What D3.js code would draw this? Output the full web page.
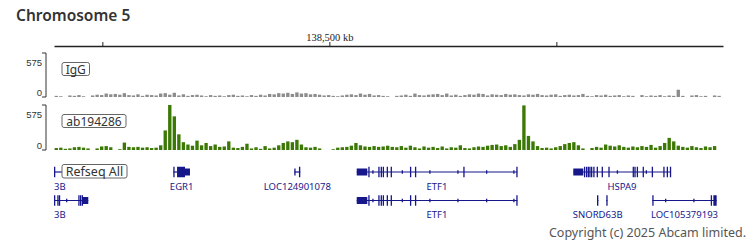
<!DOCTYPE html>
<html>
<head>
<meta charset="utf-8">
<script src="https://cdn.jsdelivr.net/npm/d3@7"></script>
<style>
  body { margin: 0; background: #fff; }
  svg { display: block; font-family: "Noto Sans", sans-serif; }
</style>
</head>
<body>
<div id="graf"></div>
<script>
// region shown (kb)
const regionStart = 138378.7
const regionEnd = 138673.4
const rulerTicks = [138400, 138500, 138600]
const labelledTick = 138500

// coverage, 2 kb bins from regionStart, scale 0-575
const binKb = 2
const trackMax = 575
const igg = [
  15, 10, 0, 20, 15, 25, 10, 0, 20, 30, 25, 45, 35, 40, 30, 50, 25, 20, 35, 15, 30,
  25, 20, 45, 50, 30, 55, 20, 35, 15, 25, 30, 20, 10, 25, 15, 20, 10, 25, 30, 15,
  20, 10, 25, 15, 30, 20, 40, 35, 50, 45, 55, 40, 60, 45, 50, 35, 40, 30, 20, 25,
  15, 10, 20, 30, 35, 25, 45, 30, 40, 20, 25, 15, 10, 0, 15, 20, 30, 15, 45, 25,
  20, 30, 35, 40, 25, 45, 20, 30, 15, 25, 35, 30, 45, 40, 20, 35, 30, 25, 40, 30,
  35, 25, 20, 35, 30, 40, 25, 20, 30, 35, 15, 25, 30, 20, 25, 40, 15, 10, 25, 20,
  30, 15, 20, 25, 10, 20, 15, 0, 25, 10, 20, 15, 25, 10, 20, 15, 95, 15, 0, 20,
  25, 10, 15, 0, 20, 15
]
const ab194286 = [
  25, 30, 15, 20, 35, 40, 30, 20, 0, 20, 45, 50, 35, 0, 10, 95, 40, 35, 40, 30,
  35, 25, 30, 60, 250, 575, 430, 200, 100, 70, 55, 120, 60, 90, 50, 70, 40, 45,
  110, 30, 25, 40, 80, 20, 35, 15, 50, 20, 30, 60, 90, 110, 100, 130, 70, 35,
  30, 40, 20, 0, 0, 10, 30, 35, 40, 55, 90, 60, 45, 40, 50, 40, 45, 55, 40, 35,
  50, 30, 55, 35, 20, 45, 30, 40, 25, 45, 20, 35, 30, 60, 25, 20, 35, 45, 40,
  55, 65, 70, 50, 60, 40, 75, 130, 570, 180, 110, 50, 25, 30, 20, 35, 50, 75,
  90, 100, 60, 20, 0, 25, 40, 30, 70, 55, 45, 60, 40, 30, 45, 35, 50, 40, 65,
  30, 50, 90, 155, 110, 55, 40, 30, 50, 35, 25, 45, 35, 50
]

// RefSeq genes: row, name, start, end, exons [start, end, kind]
const genes = [
  { row: 0, name: "3B", start: 138340, end: 138385, exons: [[138378.7, 138379.15, "cds"]] },
  { row: 0, name: "EGR1", start: 138431.25, end: 138438.6, exons: [
    [138431.25, 138431.8, "cds"], [138432.9, 138436.4, "cds"], [138436.4, 138438.6, "utr"]] },
  { row: 0, name: "LOC124901078", start: 138484.55, end: 138487.2, exons: [
    [138484.55, 138485.0, "utr"], [138486.6, 138487.2, "cds"]] },
  { row: 0, name: "ETF1", start: 138512.05, end: 138582.8, exons: [
    [138512.05, 138516.7, "utr"], [138517.15, 138517.6, "cds"], [138518.9, 138519.3, "mark"],
    [138521.55, 138522.0, "cds"], [138522.6, 138523.0, "cds"], [138523.5, 138523.9, "cds"],
    [138525.25, 138525.7, "cds"], [138527.0, 138527.45, "cds"], [138531.85, 138532.25, "mark"],
    [138535.5, 138535.95, "cds"], [138537.7, 138538.15, "cds"], [138544.0, 138544.4, "mark"],
    [138556.35, 138556.75, "mark"], [138559.0, 138559.45, "cds"], [138569.0, 138569.4, "mark"],
    [138581.0, 138581.4, "mark"], [138582.35, 138582.8, "cds"]] },
  { row: 0, name: "HSPA9", start: 138607.45, end: 138650.4, exons: [
    [138607.45, 138611.85, "utr"], [138612.15, 138612.55, "cds"], [138613.05, 138613.45, "cds"],
    [138613.8, 138614.2, "cds"], [138614.5, 138614.9, "cds"], [138615.25, 138615.65, "cds"],
    [138616.25, 138616.65, "cds"], [138617.75, 138618.15, "cds"], [138619.95, 138620.35, "cds"],
    [138622.9, 138623.3, "cds"], [138626.6, 138627.0, "mark"], [138633.6, 138634.0, "cds"],
    [138634.35, 138634.75, "cds"], [138635.4, 138635.8, "cds"], [138638.0, 138638.4, "cds"],
    [138639.35, 138639.75, "mark"], [138642.0, 138642.4, "cds"], [138647.1, 138647.5, "cds"],
    [138648.6, 138649.0, "cds"], [138650.0, 138650.4, "cds"]] },
  { row: 1, name: "3B", start: 138340, end: 138393.8, exons: [
    [138378.7, 138379.15, "cds"], [138380.15, 138380.6, "cds"], [138380.85, 138381.3, "cds"],
    [138384.0, 138384.4, "mark"], [138389.4, 138389.85, "cds"], [138390.15, 138390.6, "cds"],
    [138390.9, 138391.3, "cds"], [138391.35, 138393.8, "utr"]] },
  { row: 1, name: "ETF1", start: 138512.05, end: 138582.8, exons: [
    [138512.05, 138516.7, "utr"], [138517.15, 138517.6, "cds"], [138518.9, 138519.3, "mark"],
    [138521.55, 138522.0, "cds"], [138522.6, 138523.0, "cds"], [138523.5, 138523.9, "cds"],
    [138525.25, 138525.7, "cds"], [138527.0, 138527.45, "cds"], [138531.85, 138532.25, "mark"],
    [138535.5, 138535.95, "cds"], [138537.7, 138538.15, "cds"], [138544.0, 138544.4, "mark"],
    [138556.35, 138556.75, "mark"], [138569.0, 138569.4, "mark"],
    [138581.0, 138581.4, "mark"], [138582.35, 138582.8, "cds"]] },
  { row: 1, name: "SNORD63B", start: 138617.9, end: 138618.5, exons: [[138617.9, 138618.5, "cds"]] },
  { row: 1, name: "", start: 138622.0, end: 138622.45, exons: [[138622.0, 138622.45, "cds"]] },
  { row: 1, name: "LOC105379193", start: 138642.25, end: 138670.6, exons: [
    [138642.25, 138642.7, "cds"], [138647.85, 138648.25, "mark"], [138660.3, 138660.7, "mark"],
    [138668.0, 138668.45, "cds"], [138669.15, 138670.6, "cds"]] }
]

const W = 750, H = 250
const left = 54, right = 723
const geneColor = "#17178c"

const svg = d3.select("#graf").append("svg").attr("width", W).attr("height", H)

const x = d3.scaleLinear().domain([regionStart, regionEnd]).range([left, right])

// title
svg.append("text")
  .attr("x", 16).attr("y", 21)
  .attr("font-size", 15.5).attr("font-weight", 600).attr("fill", "#333")
  .text("Chromosome 5")

// ruler
const ruler = d3.axisTop(x)
  .tickValues(rulerTicks)
  .tickSize(4)
  .tickSizeOuter(0)
  .tickFormat((d) => d === labelledTick ? d3.format(",")(d) + " kb" : "")

const rulerG = svg.append("g").attr("transform", "translate(0,46)").call(ruler)
rulerG.select(".domain").attr("stroke", "#222").attr("stroke-width", 1.5)
rulerG.selectAll(".tick line").attr("stroke", "#222")
rulerG.selectAll(".tick text")
  .style("font-family", "'Liberation Serif', serif")
  .style("font-size", "10.5px").attr("fill", "#222").attr("dy", "-0.1em").attr("y", -4)

// coverage tracks
const tracks = [
  { name: "IgG", values: igg, top: 53, bottom: 97, color: "#8c8c8c", labelW: 27.5 },
  { name: "ab194286", values: ab194286, top: 105, bottom: 150, color: "#3b7805", labelW: 64 }
]

tracks.forEach((t) => {
  const y = d3.scaleLinear().domain([0, trackMax]).range([t.bottom, t.top])
  const g = svg.append("g")

  g.append("path")
    .attr("d", `M42,${t.top}H46V${t.bottom}H42`)
    .attr("fill", "none").attr("stroke", "#333").attr("stroke-width", 1)
  g.append("text").attr("x", 42).attr("y", t.top + 12.5)
    .attr("text-anchor", "end").style("font-family", "'Liberation Sans', Arial, sans-serif")
    .attr("font-size", 9.5).attr("fill", "#333").text(trackMax)
  g.append("text").attr("x", 42).attr("y", t.bottom - 1.5)
    .attr("text-anchor", "end").style("font-family", "'Liberation Sans', Arial, sans-serif")
    .attr("font-size", 9.5).attr("fill", "#333").text(0)

  const bw = x(regionStart + binKb) - x(regionStart)
  g.selectAll("rect.bar")
    .data(t.values)
    .join("rect")
    .attr("class", "bar")
    .attr("x", (d, i) => x(regionStart + i * binKb) + 0.6)
    .attr("width", bw - 1.2)
    .attr("y", (d) => y(d))
    .attr("height", (d) => t.bottom - y(d))
    .attr("fill", t.color)

  // label box
  g.append("rect")
    .attr("x", 62).attr("y", t.top + 9.5).attr("width", t.labelW).attr("height", 13)
    .attr("rx", 2).attr("fill", "#fff").attr("stroke", "#666").attr("stroke-width", 1)
  g.append("text")
    .attr("x", 62 + t.labelW / 2).attr("y", t.top + 20.5)
    .attr("text-anchor", "middle").attr("font-size", 12).attr("fill", "#333")
    .text(t.name)
})

// refseq track
const rowY = [172, 200.5]
const labelY = [189.5, 218]
const exonH = { cds: 10.5, utr: 7, mark: 3.5 }
const genesG = svg.append("g")

genes.forEach((gn) => {
  const cy = rowY[gn.row]
  const x0 = Math.max(left, x(gn.start))
  const x1 = Math.min(right, x(gn.end))
  genesG.append("line")
    .attr("x1", x0).attr("x2", x1).attr("y1", cy).attr("y2", cy)
    .attr("stroke", geneColor).attr("stroke-width", 1.2)
  gn.exons.forEach((e) => {
    const h = exonH[e[2]]
    const ex = x(e[0])
    const ew = Math.max(1.3, x(e[1]) - x(e[0]))
    genesG.append("rect")
      .attr("x", ex).attr("width", ew)
      .attr("y", cy - h / 2).attr("height", h)
      .attr("fill", geneColor)
  })
  if (gn.name) {
    const lbl = genesG.append("text")
      .attr("y", labelY[gn.row])
      .attr("text-anchor", "middle").attr("font-size", 9.5).attr("fill", geneColor)
      .text(gn.name)
    const lw = lbl.node().getComputedTextLength()
    let cx = (x(gn.start) + x(gn.end)) / 2
    cx = Math.max(left + lw / 2, Math.min(right - lw / 2, cx))
    lbl.attr("x", cx)
  }
})

// refseq label box
svg.append("rect")
  .attr("x", 62).attr("y", 164.5).attr("width", 65).attr("height", 13.5)
  .attr("rx", 2).attr("fill", "#fff").attr("stroke", "#666").attr("stroke-width", 1)
svg.append("text")
  .attr("x", 94.5).attr("y", 175.8)
  .attr("text-anchor", "middle").attr("font-size", 12.5).attr("fill", "#333")
  .text("Refseq All")

// copyright
svg.append("text")
  .attr("x", 746).attr("y", 237)
  .attr("text-anchor", "end").attr("font-size", 12.5).attr("fill", "#555")
  .text("Copyright (c) 2025 Abcam limited.")
</script>
</body>
</html>
